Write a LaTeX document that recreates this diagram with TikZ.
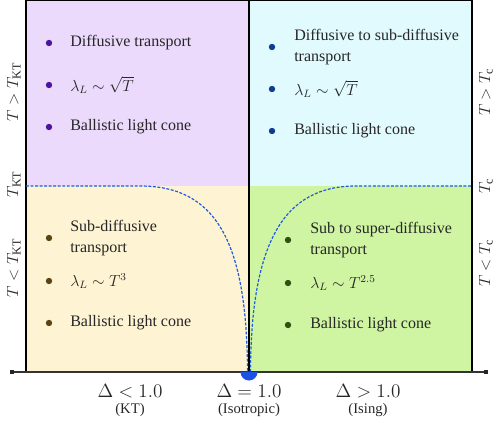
\documentclass[tikz,border=0pt]{standalone}
\usepackage{fontspec}
\setmainfont{Liberation Serif}
\usetikzlibrary{calc}
\begin{document}
\begin{tikzpicture}[x=0.75pt,y=-0.75pt,
  txt/.style={anchor=west,text=black!85,inner sep=0pt,align=left,font=\fontsize{12}{15.5}\selectfont},
  lbl/.style={text=black!85,inner sep=0pt,font=\fontsize{13.8}{16}\selectfont},
  sublbl/.style={text=black!85,inner sep=0pt,font=\fontsize{11}{13}\selectfont},
  sidelbl/.style={text=black!85,inner sep=0pt,rotate=90,font=\fontsize{13}{15}\selectfont},
  bul/.style={circle,inner sep=0pt,minimum size=4.8pt},
  crit/.style={dash pattern=on 2.2pt off 1.2pt,line width=0.9pt}]
\definecolor{qtl}{HTML}{EBDAFB}
\definecolor{qtr}{HTML}{E1FAFE}
\definecolor{qbl}{HTML}{FEF4D4}
\definecolor{qbr}{HTML}{CFF5A2}
\definecolor{btl}{HTML}{4E12A0}
\definecolor{btr}{HTML}{0B3C92}
\definecolor{bbl}{HTML}{5A4512}
\definecolor{bbr}{HTML}{2B5212}
\definecolor{critc}{HTML}{1F5AE0}
\useasboundingbox (0,0) rectangle (498,420);
% quadrants
\fill[qtl] (26,0) rectangle (249,186);
\fill[qtr] (249,0) rectangle (472,186);
\fill[qbl] (26,186) rectangle (249,372);
\fill[qbr] (249,186) rectangle (472,372);
\draw[black,line width=0.8pt] (26,372) -- (26,0) -- (472,0) -- (472,372);
\draw[black,line width=0.8pt] (249,0) -- (249,372);
% critical lines
\coordinate (l0) at (26,186);
\coordinate (l1) at (140,186);
\coordinate (cp) at (249,372);
\coordinate (r1) at (356,186);
\coordinate (r0) at (472,186);
\draw[crit,draw=critc] (l0) -- (l1) .. controls (215,186) and (247,240) .. (247.5,372);
\draw[crit,draw=critc] (250.5,372) .. controls (251,240) and (285,186) .. (r1) -- (r0);
% axis
\coordinate (a0) at (12,372);
\coordinate (a1) at (486,372);
\draw[black!80,line width=1.1pt] (a0) -- (a1);
\fill[black!85] ($(a0)+(-1.8,-1.8)$) rectangle ($(a0)+(1.8,1.8)$);
\fill[black!85] ($(a1)+(-1.8,-1.8)$) rectangle ($(a1)+(1.8,1.8)$);
\fill[critc!90!blue] (240.5,372) arc (180:0:8.5) -- cycle;
% top-left
\node[bul,fill=btl] (b1) at (49,43) {};
\node[txt] (t1) at (70,43) {Diffusive transport};
\node[bul,fill=btl] (b2) at (49,85) {};
\node[txt] (t2) at (70,85) {$\lambda_L\sim\sqrt{T}$};
\node[bul,fill=btl] (b3) at (49,127) {};
\node[txt] (t3) at (70,127) {Ballistic light cone};
% top-right
\node[bul,fill=btr] (b4) at (272,47) {};
\node[txt] (t4) at (294,47) {Diffusive to sub-diffusive\\transport};
\node[bul,fill=btr] (b5) at (272,89) {};
\node[txt] (t5) at (294,89) {$\lambda_L\sim\sqrt{T}$};
\node[bul,fill=btr] (b6) at (272,131) {};
\node[txt] (t6) at (294,131) {Ballistic light cone};
% bottom-left
\node[bul,fill=bbl] (b7) at (49,238) {};
\node[txt] (t7) at (70,238) {Sub-diffusive\\transport};
\node[bul,fill=bbl] (b8) at (49,281) {};
\node[txt] (t8) at (70,281) {$\lambda_L\sim T^3$};
\node[bul,fill=bbl] (b9) at (49,323) {};
\node[txt] (t9) at (70,323) {Ballistic light cone};
% bottom-right
\node[bul,fill=bbr] (b10) at (288,240) {};
\node[txt] (t10) at (310,240) {Sub to super-diffusive\\transport};
\node[bul,fill=bbr] (b11) at (288,283) {};
\node[txt] (t11) at (310,283) {$\lambda_L\sim T^{2.5}$};
\node[bul,fill=bbr] (b12) at (288,325) {};
\node[txt] (t12) at (310,325) {Ballistic light cone};
% side labels
\node[sidelbl] (s1) at (14,92) {$T>T_{\mathrm{KT}}$};
\node[sidelbl] (s2) at (14,184) {$T_{\mathrm{KT}}$};
\node[sidelbl] (s3) at (14,268) {$T<T_{\mathrm{KT}}$};
\node[sidelbl] (s4) at (486,92) {$T>T_{\mathrm{c}}$};
\node[sidelbl] (s5) at (486,186) {$T_{\mathrm{c}}$};
\node[sidelbl] (s6) at (486,263) {$T<T_{\mathrm{c}}$};
% bottom labels
\node[lbl] (x1) at (130,391) {$\Delta<1.0$};
\node[sublbl] (y1) at (130,410) {(KT)};
\node[lbl] (x2) at (249,391) {$\Delta=1.0$};
\node[sublbl] (y2) at (249,410) {(Isotropic)};
\node[lbl] (x3) at (368,391) {$\Delta>1.0$};
\node[sublbl] (y3) at (368,410) {(Ising)};
\end{tikzpicture}
\end{document}
